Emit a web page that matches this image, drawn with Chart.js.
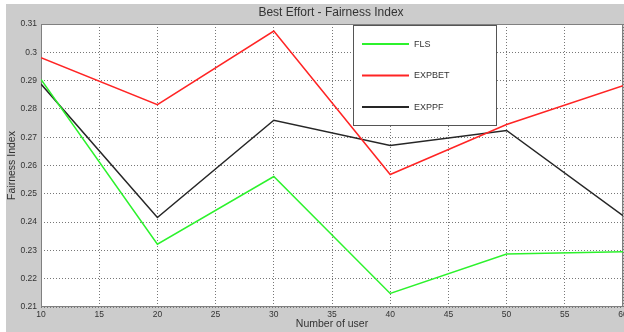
<!DOCTYPE html>
<html>
<head>
<meta charset="utf-8">
<title>Best Effort - Fairness Index</title>
<script src="https://cdn.jsdelivr.net/npm/chart.js@4"></script>
<style>
  html, body { margin: 0; padding: 0; background: #fff; }
  #wrap { width: 624px; height: 332px; }
</style>
</head>
<body>
<div id="wrap"><canvas id="chart" width="624" height="332"></canvas></div>
<script>
// Fairness index vs. number of users, one series per scheduler.
const users = [10, 20, 30, 40, 50, 60];
const fls = [0.2904, 0.2322, 0.2561, 0.2148, 0.2287, 0.2295];
const expbet = [0.2981, 0.2815, 0.3075, 0.2568, 0.2745, 0.2882];
const exppf = [0.2888, 0.2416, 0.2760, 0.2671, 0.2724, 0.2423];

const xTicks = [10, 15, 20, 25, 30, 35, 40, 45, 50, 55, 60];
const yTicks = [0.21, 0.22, 0.23, 0.24, 0.25, 0.26, 0.27, 0.28, 0.29, 0.3, 0.31];

const FONT = "'Liberation Sans', Arial, sans-serif";
const TEXT = '#333';

const pts = (ys) => users.map((u, i) => ({ x: u, y: ys[i] }));

// grey figure background with a thin white margin top/left
const figureBg = {
  id: 'figureBg',
  beforeDraw(chart) {
    const { ctx, width, height } = chart;
    ctx.save();
    ctx.fillStyle = '#fff';
    ctx.fillRect(0, 0, width, height);
    ctx.fillStyle = '#cccccc';
    ctx.fillRect(6, 4, width - 6, height - 4);
    const a = chart.chartArea;
    ctx.fillStyle = '#fff';
    ctx.fillRect(a.left, a.top, a.right - a.left, a.bottom - a.top);
    ctx.restore();
  },
  afterDraw(chart) {
    const { ctx } = chart;
    ctx.save();
    ctx.fillStyle = TEXT;
    ctx.font = '12px ' + FONT;
    ctx.textAlign = 'center';
    ctx.textBaseline = 'middle';
    ctx.fillText('Best Effort - Fairness Index', 331, 13);
    ctx.restore();
  },
};

// axes box
const frame = {
  id: 'frame',
  beforeDatasetsDraw(chart) {
    const { ctx } = chart;
    const a = chart.chartArea;
    ctx.save();
    ctx.strokeStyle = '#808080';
    ctx.lineWidth = 1;
    ctx.strokeRect(Math.round(a.left) + 0.5, Math.round(a.top) + 0.5,
      Math.round(a.right - a.left) - 1, Math.round(a.bottom - a.top) - 1);
    ctx.restore();
  },
};

// MATLAB-style boxed legend in the upper middle
const boxLegend = {
  id: 'boxLegend',
  afterDatasetsDraw(chart) {
    const { ctx } = chart;
    const x0 = 353, y0 = 25, w = 143, h = 100;
    ctx.save();
    ctx.fillStyle = '#fff';
    ctx.fillRect(x0, y0, w, h);
    ctx.strokeStyle = '#555';
    ctx.lineWidth = 1;
    ctx.strokeRect(x0 + 0.5, y0 + 0.5, w, h);
    ctx.font = '9px ' + FONT;
    ctx.textBaseline = 'middle';
    chart.data.datasets.forEach((ds, i) => {
      const y = 44 + i * 31.5;
      ctx.strokeStyle = ds.borderColor;
      ctx.lineWidth = 2;
      ctx.beginPath();
      ctx.moveTo(362, y);
      ctx.lineTo(409, y);
      ctx.stroke();
      ctx.fillStyle = TEXT;
      ctx.fillText(ds.label, 414, y + 0.5);
    });
    ctx.restore();
  },
};

new Chart(document.getElementById('chart'), {
  type: 'line',
  data: {
    datasets: [
      { label: 'FLS', data: pts(fls), borderColor: '#2cf22c' },
      { label: 'EXPBET', data: pts(expbet), borderColor: '#ff2424' },
      { label: 'EXPPF', data: pts(exppf), borderColor: '#262626' },
    ],
  },
  options: {
    responsive: false,
    animation: false,
    events: [],
    layout: { padding: { left: 0, top: 24, right: 1, bottom: 0 } },
    elements: {
      line: { borderWidth: 1.5, tension: 0 },
      point: { radius: 0 },
    },
    plugins: {
      legend: { display: false },
      title: { display: false },
      tooltip: { enabled: false },
    },
    scales: {
      x: {
        type: 'linear',
        min: 10,
        max: 60,
        afterBuildTicks(scale) { scale.ticks = xTicks.map((v) => ({ value: v })); },
        afterFit(scale) {
          scale.height = 25;
          // let the "60" label run off the edge instead of shrinking the plot
          scale.paddingLeft = 0;
          scale.paddingRight = 0;
        },
        grid: { color: '#777', drawTicks: false },
        border: { display: false, dash: [1, 2] },
        ticks: { padding: 3, color: TEXT, font: { family: FONT, size: 8.5 }, maxRotation: 0 },
        title: {
          display: true,
          text: 'Number of user',
          color: TEXT,
          font: { family: FONT, size: 10.5 },
          padding: { top: 0, bottom: 2 },
        },
      },
      y: {
        type: 'linear',
        min: 0.21,
        max: 0.31,
        afterBuildTicks(scale) { scale.ticks = yTicks.map((v) => ({ value: v })); },
        afterFit(scale) {
          scale.width = 41;
          scale.paddingTop = 0;
          scale.paddingBottom = 0;
        },
        grid: { color: '#777', drawTicks: false },
        border: { display: false, dash: [1, 2] },
        ticks: {
          padding: 4,
          color: TEXT,
          font: { family: FONT, size: 8.5 },
          callback: (v) => String(Number(v.toFixed(2))),
        },
        title: {
          display: true,
          text: 'Fairness Index',
          color: TEXT,
          font: { family: FONT, size: 10.5 },
          padding: { top: 6, bottom: 0 },
        },
      },
    },
  },
  plugins: [figureBg, frame, boxLegend],
});
</script>
</body>
</html>
